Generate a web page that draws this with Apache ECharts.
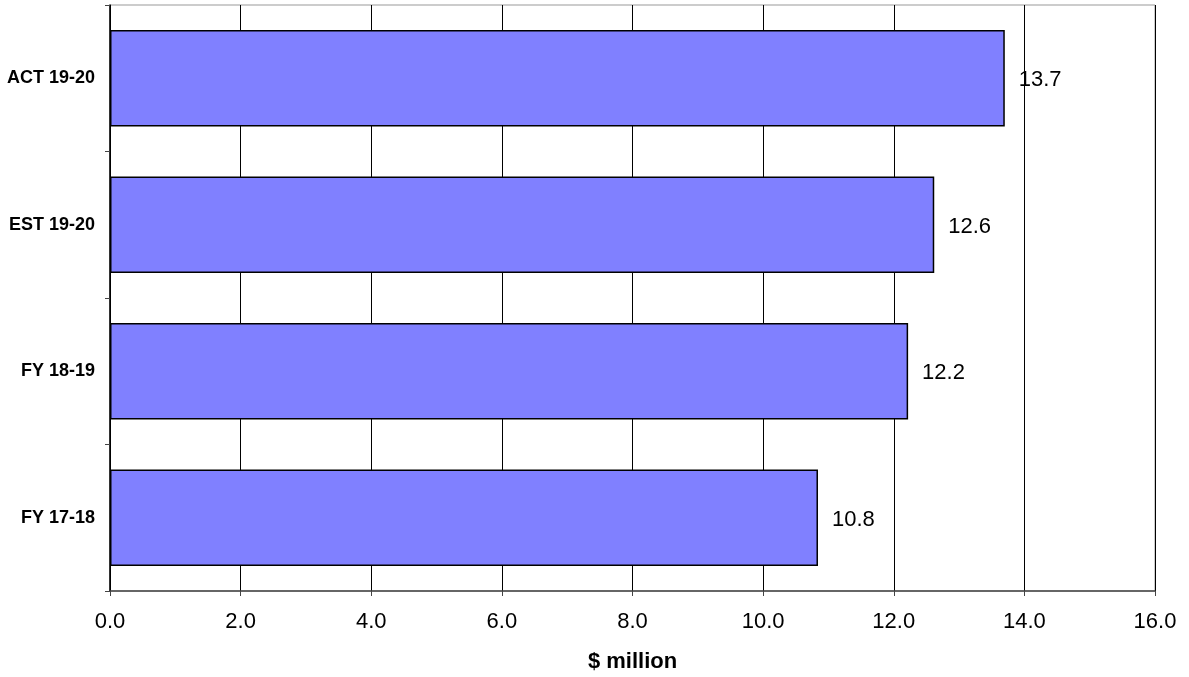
<!DOCTYPE html>
<html>
<head>
<meta charset="utf-8">
<script src="https://cdn.jsdelivr.net/npm/echarts@6/dist/echarts.min.js"></script>
<style>
html,body{margin:0;padding:0;background:#fff;}
#chart{width:1189px;height:677px;}
</style>
</head>
<body>
<div id="chart"></div>
<script>
const categories = ['FY 17-18', 'FY 18-19', 'EST 19-20', 'ACT 19-20'];
const values = [10.84, 12.22, 12.62, 13.70];
const xTicks = [0, 2, 4, 6, 8, 10, 12, 14, 16];
const xAxisName = '$ million';

const chart = echarts.init(document.getElementById('chart'));
chart.setOption({
  backgroundColor: '#fff',
  animation: false,
  grid: { left: 110, right: 34, top: 5, bottom: 86, show: true, borderColor: '#999', borderWidth: 1, containLabel: false, outerBoundsMode: 'none' },
  xAxis: {
    type: 'value', min: xTicks[0], max: xTicks[xTicks.length - 1], interval: 2,
    name: xAxisName, nameLocation: 'middle', nameGap: 60,
    nameTextStyle: { fontFamily: 'Liberation Sans, Arial', fontSize: 22, fontWeight: 'bold', color: '#000' },
    axisLine: { show: true, lineStyle: { color: '#444', width: 1.5 } },
    axisTick: { show: true, length: 5, lineStyle: { color: '#444' } },
    axisLabel: { fontFamily: 'Liberation Sans, Arial', fontSize: 22, color: '#000', margin: 20, formatter: v => v.toFixed(1) },
    splitLine: { show: true, lineStyle: { color: '#000', width: 1 } }
  },
  yAxis: {
    type: 'category', data: categories,
    axisLine: { show: true, lineStyle: { color: '#000', width: 1.5 } },
    axisTick: { show: true, length: 5, alignWithLabel: false, lineStyle: { color: '#444' } },
    axisLabel: { fontFamily: 'Liberation Sans, Arial', fontSize: 18, fontWeight: 'bold', color: '#000', margin: 15 },
    splitLine: { show: false }
  },
  series: [{
    type: 'bar', data: values, barCategoryGap: '34%',
    itemStyle: { color: '#8080FF', borderColor: '#000', borderWidth: 1.5 },
    label: { show: true, position: 'right', distance: 14, offset: [0, 2], fontFamily: 'Liberation Sans, Arial', fontSize: 22, color: '#000',
      formatter: p => p.value.toFixed(1) }
  }]
});
</script>
</body>
</html>
